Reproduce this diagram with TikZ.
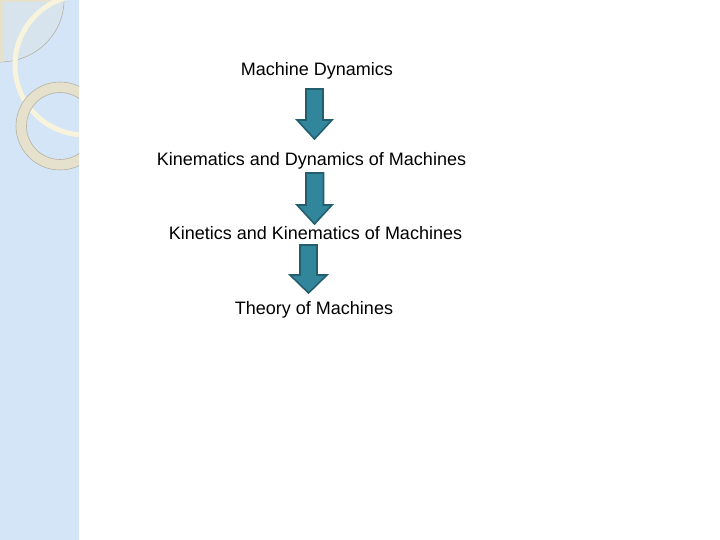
\documentclass[tikz,border=0pt]{standalone}
\usepackage{fontspec}
\setmainfont{Liberation Sans}
\definecolor{strip}{HTML}{D4E5F7}
\definecolor{cream}{HTML}{F7F3DC}
\definecolor{beige}{HTML}{E6E1CC}
\definecolor{ringline}{HTML}{B5B2A2}
\definecolor{arrowfill}{HTML}{31869C}
\definecolor{arrowline}{HTML}{235E6E}
\begin{document}
\begin{tikzpicture}[x=1pt,y=-1pt,
  label/.style={font=\fontsize{18}{21}\selectfont, text=black, inner sep=0pt, anchor=center},
  blockarrow/.style={fill=arrowfill, draw=arrowline, line width=1.6pt, line join=miter}]
\useasboundingbox (0,0) rectangle (720,540);
\fill[white] (0,0) rectangle (720,540);
% left strip
\fill[strip] (0,0) rectangle (79,540);
\begin{scope}
\clip (0,0) rectangle (79,540);
% top-left quarter panel
\fill[strip!80!beige] (0,0) -- (64,0) arc[start angle=0,end angle=-90,x radius=64,y radius=-62] -- cycle;
\draw[ringline, line width=0.6pt] (64,0) arc[start angle=0,end angle=-90,x radius=64,y radius=-62];
\fill[beige] (0,0) rectangle (64,2.5);
\fill[beige] (0,0) rectangle (2.5,62);
% pale cream ring
\draw[cream, line width=5pt] (85,65) circle[radius=70];
% beige ring
\fill[beige, even odd rule] (60,126) circle[radius=44] (60,126) circle[radius=33.5];
\draw[ringline, line width=0.6pt] (60,126) circle[radius=44];
\draw[ringline, line width=0.6pt] (60,126) circle[radius=33.5];
\end{scope}
% texts
\node[label] (md) at (317,71) {Machine Dynamics};
\node[label] (kdm) at (311.5,161) {Kinematics and Dynamics of Machines};
\node[label] (kkm) at (315.5,233) {Kinetics and Kinematics of Machines};
\node[label] (tom) at (314,310) {Theory of Machines};
% block arrows
\draw[blockarrow] (306,89) -- (323,89) -- (323,120) -- (332,120) -- (314.5,139) -- (297,120) -- (306,120) -- cycle;
\draw[blockarrow] (306,173) -- (323.5,173) -- (323.5,205) -- (332,205) -- (314.5,224) -- (297,205) -- (306,205) -- cycle;
\draw[blockarrow] (300,245) -- (317,245) -- (317,275) -- (327,275) -- (308.5,293) -- (290,275) -- (300,275) -- cycle;
\end{tikzpicture}
\end{document}
